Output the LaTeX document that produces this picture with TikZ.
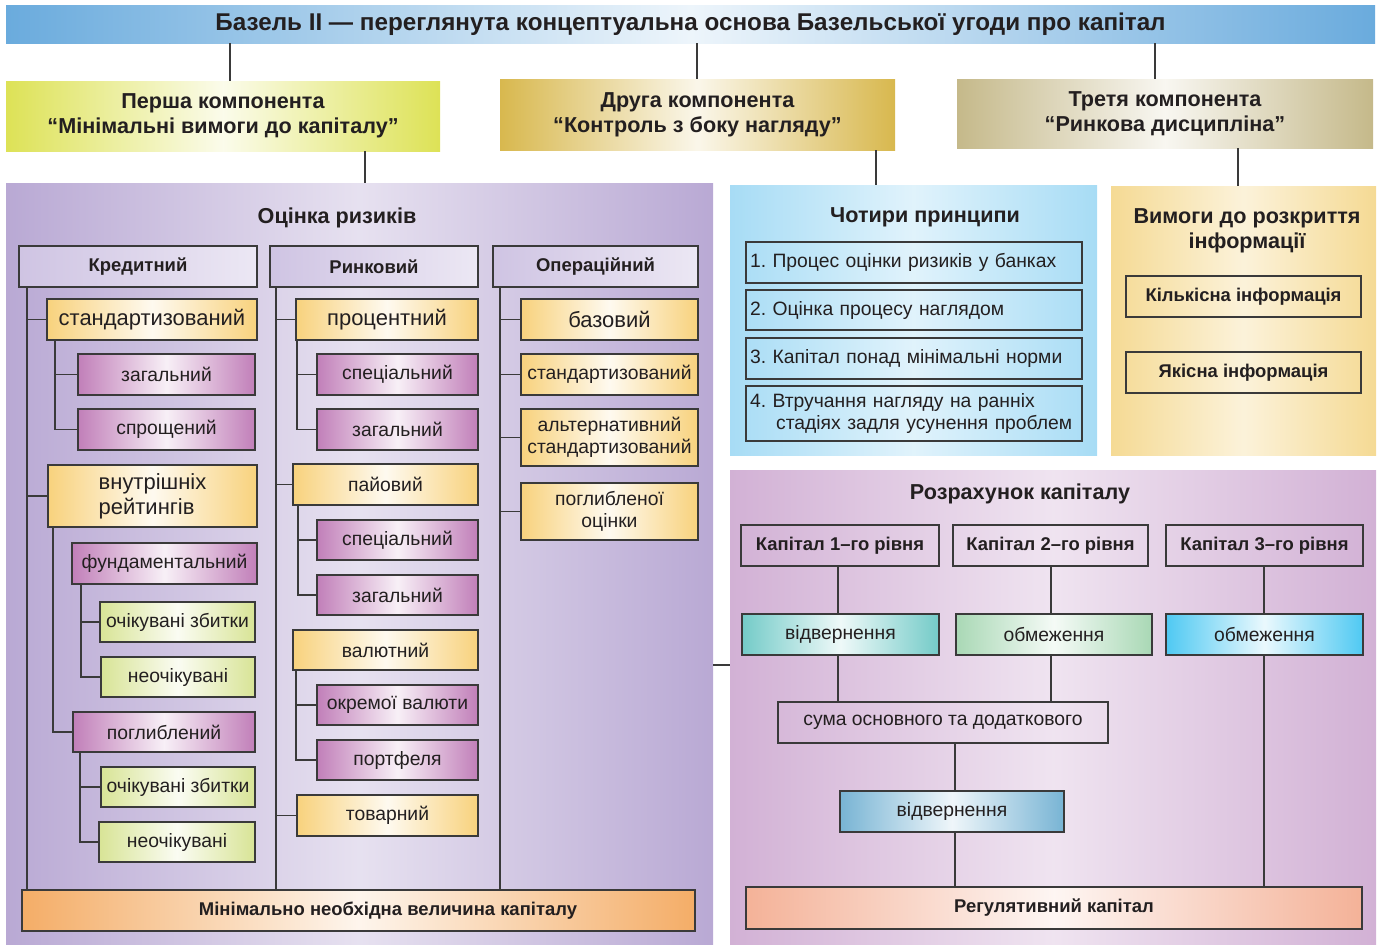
\documentclass[tikz,border=0pt]{standalone}
\usepackage{fontspec}
\setmainfont{Liberation Sans}
\usetikzlibrary{positioning}
\frenchspacing
\definecolor{txt}{HTML}{231F20}
\definecolor{lin}{HTML}{3A3A3A}
\definecolor{ttlC}{HTML}{6AABDD}
\definecolor{k1C}{HTML}{DDE256}
\definecolor{k2C}{HTML}{D8B84E}
\definecolor{k3C}{HTML}{C5B98A}
\definecolor{lpC}{HTML}{B9A9D4}
\definecolor{rpC}{HTML}{D2B1D5}
\definecolor{bpC}{HTML}{A7DCF5}
\definecolor{ypC}{HTML}{F5DA94}
\definecolor{hdrC}{HTML}{CFC4E3}
\definecolor{yelC}{HTML}{F8D27D}
\definecolor{purC}{HTML}{C17FB9}
\definecolor{grnC}{HTML}{D8E496}
\definecolor{orC}{HTML}{F4AD67}
\definecolor{tealC}{HTML}{74CBC8}
\definecolor{mintC}{HTML}{A9D8B5}
\definecolor{cyanC}{HTML}{4FC9F2}
\definecolor{bluC}{HTML}{78B4D4}
\definecolor{salC}{HTML}{F4B298}
\newcommand\tlfont{\fontsize{13.8}{16}\selectfont\bfseries}
\newcommand\cpfont{\fontsize{12.3}{14.4}\selectfont\bfseries}
\newcommand\hdfont{\fontsize{10.5}{12.5}\selectfont\bfseries}
\newcommand\nmfont{\fontsize{11}{12.6}\selectfont}
\newcommand\bgfont{\fontsize{12.5}{14.2}\selectfont}
\tikzset{%
    every node/.style={text=txt},
    wd/.style={minimum width=#1*0.02cm},
    ht/.style={minimum height=#1*0.02cm},
    shd/.style={left color=#1, right color=#1, middle color=#1!12!white},
    pshd/.style={left color=#1, right color=#1, middle color=#1!35!white},
    panel/.style={inner sep=0pt, align=center},
    box/.style={draw=lin, line width=0.8pt, inner sep=0pt, align=center,
        font=\nmfont, minimum height=41*0.02cm},
    yel/.style={box, shd=yelC},
    pur/.style={box, shd=purC},
    grn/.style={box, shd=grnC},
    hdr/.style={box, font=\hdfont, left color=hdrC, right color=hdrC!40!white},
    plain/.style={box},
    prin/.style={box, wd=336, text width=328*0.02cm, align=left},
    conn/.style={draw=lin, line width=1pt}
}
\begin{document}
\begin{tikzpicture}[x=0.02cm, y=-0.02cm]
\useasboundingbox (0,0) rectangle (1380,944);
%%%%% Kopf und Komponenten
\node[panel, shd=ttlC, wd=1369, ht=38, font=\tlfont] (ttl) at (690.5,24)
    {Базель II — переглянута концептуальна основа Базельської угоди про капітал};
\node[panel, shd=k1C, wd=434, ht=70, font=\cpfont] (komp1) at (223,116)
    {Перша компонента\\“Мінімальні вимоги до капіталу”};
\node[panel, shd=k2C, wd=395, ht=71, font=\cpfont] (komp2) at (697.5,114.5)
    {Друга компонента\\“Контроль з боку нагляду”};
\node[panel, shd=k3C, wd=416, ht=69, font=\cpfont] (komp3) at (1165,113.5)
    {Третя компонента\\“Ринкова дисципліна”};
%%%%% Panele
\node[panel, pshd=lpC, wd=707, ht=761] (ocinka) at (359.5,563.5) {};
\node[panel, pshd=bpC, wd=367, ht=270] (pryn) at (913.5,320) {};
\node[panel, pshd=ypC, wd=265, ht=269] (vymog) at (1243.5,320.5) {};
\node[panel, pshd=rpC, wd=646, ht=474] (rozr) at (1053,707) {};
\node[font=\cpfont] (ocinka-t) at (337,218) {Оцінка ризиків};
\node[font=\cpfont] (pryn-t) at (925,217) {Чотири принципи};
\node[font=\cpfont, align=center] (vymog-t) at (1247,231) {Вимоги до розкриття\\інформації};
\node[font=\cpfont] (rozr-t) at (1020,494) {Розрахунок капіталу};
%%%%% Kreditnyj
\node[hdr, wd=238] (kred) at (138,266.5) {Кредитний};
\node[yel, wd=210, font=\bgfont] (k-st) at (152,319.5) {стандартизований};
\node[pur, wd=177] (k-zag) at (166.5,374.5) {загальний};
\node[pur, wd=177] (k-spr) at (166.5,429.5) {спрощений};
\node[yel, wd=209, ht=62, font=\bgfont, align=left] (k-vn) at (152.5,496) {внутрішніх\\рейтингів};
\node[pur, wd=185] (k-fund) at (164.5,563.5) {фундаментальний};
\node[grn, wd=155, ht=40] (k-oz1) at (177.5,622) {очікувані збитки};
\node[grn, wd=154, ht=40] (k-ne1) at (178,677) {неочікувані};
\node[pur, wd=182, ht=40] (k-pog) at (164,732) {поглиблений};
\node[grn, wd=154, ht=40] (k-oz2) at (178,787) {очікувані збитки};
\node[grn, wd=156, ht=40] (k-ne2) at (177,842) {неочікувані};
%%%%% Rynkovyj
\node[hdr, wd=208] (rynk) at (374,266.5) {Ринковий};
\node[yel, wd=182, font=\bgfont] (r-pr) at (387,319.5) {процентний};
\node[pur, wd=161] (r-sp1) at (397.5,374.5) {спеціальний};
\node[pur, wd=161] (r-zag1) at (397.5,429.5) {загальний};
\node[yel, wd=185] (r-pai) at (385.5,484.5) {пайовий};
\node[pur, wd=161, ht=40] (r-sp2) at (397.5,540) {спеціальний};
\node[pur, wd=161, ht=40] (r-zag2) at (397.5,595) {загальний};
\node[yel, wd=185, ht=40] (r-val) at (385.5,650) {валютний};
\node[pur, wd=161, ht=40] (r-okr) at (397.5,705) {окремої валюти};
\node[pur, wd=161, ht=40] (r-port) at (397.5,760) {портфеля};
\node[yel, wd=181] (r-tov) at (387.5,815.5) {товарний};
%%%%% Operacijnyj
\node[hdr, wd=205] (oper) at (595.5,266.5) {Операційний};
\node[yel, wd=177, font=\bgfont] (o-baz) at (609.5,319.5) {базовий};
\node[yel, wd=177] (o-st) at (609.5,374.5) {стандартизований};
\node[yel, wd=177, ht=57] (o-alt) at (609.5,437.5) {альтернативний\\стандартизований};
\node[yel, wd=177, ht=57] (o-pog) at (609.5,511.5) {поглибленої\\оцінки};
\node[box, shd=orC, wd=673, font=\hdfont] (minv) at (358.5,910.5)
    {\hspace*{3.2em}Мінімально необхідна величина капіталу};
%%%%% Pryncypy i vymogy
\node[prin, ht=41] (p1) at (914,262.5) {1. Процес оцінки ризиків у банках};
\node[prin, ht=40] (p2) at (914,310) {2. Оцінка процесу наглядом};
\node[prin, ht=41] (p3) at (914,358.5) {3. Капітал понад мінімальні норми};
\node[prin, ht=55] (p4) at (914,413.5)
    {4. Втручання нагляду на ранніх\\\hspace*{1.35em}стадіях задля усунення проблем};
\node[plain, wd=235, font=\hdfont] (i-kil) at (1243.5,296.5) {Кількісна інформація};
\node[plain, wd=235, font=\hdfont] (i-yak) at (1243.5,372.5) {Якісна інформація};
%%%%% Rozrahunok
\node[plain, wd=198, font=\hdfont] (c-k1) at (840,545.5) {Капітал 1–го рівня};
\node[plain, wd=195, font=\hdfont] (c-k2) at (1050.5,545.5) {Капітал 2–го рівня};
\node[plain, wd=197, font=\hdfont] (c-k3) at (1264.5,545.5) {Капітал 3–го рівня};
\node[box, shd=tealC, wd=197] (c-v1) at (840.5,634.5) {відвернення};
\node[box, shd=mintC, wd=196] (c-o2) at (1054,634.5) {обмеження};
\node[box, shd=cyanC, wd=197] (c-o3) at (1264.5,634.5) {обмеження};
\node[plain, wd=330] (c-sum) at (943,722.5) {сума основного та додаткового};
\node[box, shd=bluC, wd=224] (c-v2) at (952,811.5) {відвернення};
\node[box, shd=salC, wd=616, ht=42, font=\hdfont] (c-reg) at (1054,908) {Регулятивний капітал};
%%%%% Verbindungen
\draw[conn] (ttl.south -| 230,0) -- (komp1.north -| 230,0);
\draw[conn] (ttl.south -| 697,0) -- (komp2.north -| 697,0);
\draw[conn] (ttl.south -| 1155,0) -- (komp3.north -| 1155,0);
\draw[conn] (komp1.south -| 365,0) -- (ocinka.north -| 365,0);
\draw[conn] (komp2.south -| 876,0) -- (pryn.north -| 876,0);
\draw[conn] (komp3.south -| 1238,0) -- (vymog.north -| 1238,0);
\draw[conn] (ocinka.east |- 0,665) -- (rozr.west |- 0,665);
% Baeume
\coordinate (ktr) at (27,0);
\coordinate (rtr) at (276,0);
\coordinate (otr) at (500,0);
\draw[conn] (kred.south -| ktr) -- (minv.north -| ktr);
\draw[conn] (rynk.south -| rtr) -- (minv.north -| rtr);
\draw[conn] (oper.south -| otr) -- (minv.north -| otr);
\foreach \n in {k-st,k-vn} \draw[conn] (\n.west) -- (\n.west -| ktr);
\foreach \n in {r-pr,r-pai,r-tov} \draw[conn] (\n.west) -- (\n.west -| rtr);
\foreach \n in {o-baz,o-st,o-alt,o-pog} \draw[conn] (\n.west) -- (\n.west -| otr);
\draw[conn] (k-st.south -| 55,0) |- (k-spr.west);
\draw[conn] (k-zag.west) -- (k-zag.west -| 55,0);
\draw[conn] (k-vn.south -| 53,0) |- (k-pog.west);
\draw[conn] (k-fund.south -| 81,0) |- (k-ne1.west);
\draw[conn] (k-oz1.west) -- (k-oz1.west -| 81,0);
\draw[conn] (k-pog.south -| 80,0) |- (k-ne2.west);
\draw[conn] (k-oz2.west) -- (k-oz2.west -| 80,0);
\draw[conn] (r-pr.south -| 297,0) |- (r-zag1.west);
\draw[conn] (r-sp1.west) -- (r-sp1.west -| 297,0);
\draw[conn] (r-pai.south -| 298,0) |- (r-zag2.west);
\draw[conn] (r-sp2.west) -- (r-sp2.west -| 298,0);
\draw[conn] (r-val.south -| 296,0) |- (r-port.west);
\draw[conn] (r-okr.west) -- (r-okr.west -| 296,0);
% Kapital
\draw[conn] (c-k1.south -| 838,0) -- (c-v1.north -| 838,0);
\draw[conn] (c-v1.south -| 838,0) -- (c-sum.north -| 838,0);
\draw[conn] (c-k2.south -| 1051,0) -- (c-o2.north -| 1051,0);
\draw[conn] (c-o2.south -| 1051,0) -- (c-sum.north -| 1051,0);
\draw[conn] (c-sum.south -| 955,0) -- (c-v2.north -| 955,0);
\draw[conn] (c-v2.south -| 955,0) -- (c-reg.north -| 955,0);
\draw[conn] (c-k3.south -| 1264,0) -- (c-o3.north -| 1264,0);
\draw[conn] (c-o3.south -| 1264,0) -- (c-reg.north -| 1264,0);
\end{tikzpicture}
\end{document}
